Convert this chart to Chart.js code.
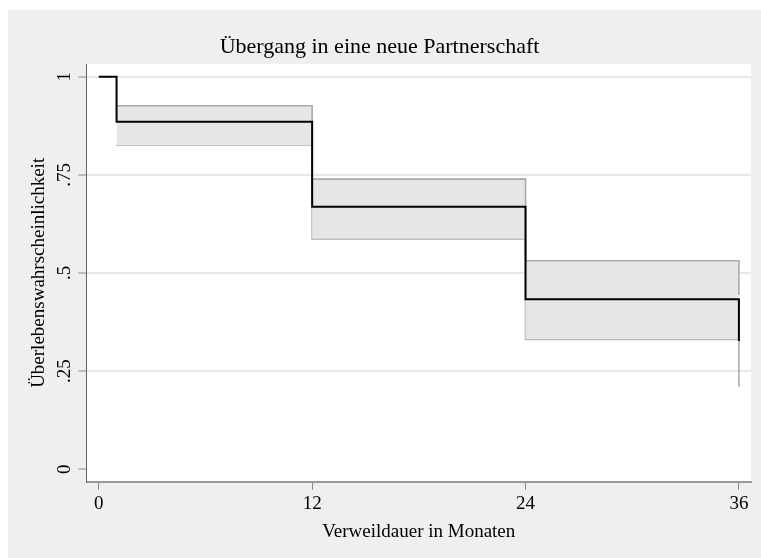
<!DOCTYPE html>
<html>
<head>
<meta charset="utf-8">
<script src="https://cdn.jsdelivr.net/npm/chart.js@4"></script>
<style>
  html, body { margin: 0; padding: 0; background: #ffffff; }
  canvas { display: block; }
</style>
</head>
<body>
<canvas id="c" width="761" height="558"></canvas>
<script>
// ---- data ----
const times = [0, 1, 12, 24, 36];
const survival = [1, 0.885, 0.669, 0.433, 0.327];
const ciTimes = [1, 12, 24, 36];
const ciUpper = [0.926, 0.739, 0.531, 0.444];
const ciLower = [0.826, 0.587, 0.331, 0.21];
const xTicks = [0, 12, 24, 36];
const xTickLabels = ['0', '12', '24', '36'];
const yTicks = [0, 0.25, 0.5, 0.75, 1];
const yTickLabels = ['0', '.25', '.5', '.75', '1'];
const titleText = 'Übergang in eine neue Partnerschaft';
const xTitle = 'Verweildauer in Monaten';
const yTitle = 'Überlebenswahrscheinlichkeit';

const FONT = "'Liberation Serif', 'Times New Roman', serif";

const bgPlugin = {
  id: 'bg',
  beforeDraw(chart) {
    const ctx = chart.ctx;
    const a = chart.chartArea;
    ctx.save();
    ctx.fillStyle = '#ffffff';
    ctx.fillRect(0, 0, chart.width, chart.height);
    ctx.fillStyle = '#efefef';
    ctx.fillRect(8, 10, chart.width - 8, chart.height - 10);
    ctx.fillStyle = '#ffffff';
    ctx.fillRect(a.left, a.top, a.right - a.left, a.bottom - a.top);
    ctx.restore();
  }
};

const toXY = (xs, ys) => xs.map((x, i) => ({ x: x, y: ys[i] }));

new Chart(document.getElementById('c'), {
  type: 'line',
  data: {
    datasets: [
      {
        label: 'Survivor',
        data: toXY(times, survival),
        borderColor: '#000000',
        borderWidth: 2,
        stepped: 'before',
        pointRadius: 0,
        fill: false
      },
      {
        label: 'Upper CI',
        data: toXY(ciTimes, ciUpper),
        borderColor: '#aaaaaa',
        borderWidth: 1.6,
        stepped: 'before',
        pointRadius: 0,
        backgroundColor: '#e6e6e6',
        fill: '+1'
      },
      {
        label: 'Lower CI',
        data: toXY(ciTimes, ciLower),
        borderColor: '#aaaaaa',
        borderWidth: 1.6,
        stepped: 'before',
        pointRadius: 0,
        fill: false
      }
    ]
  },
  options: {
    responsive: false,
    animation: false,
    events: [],
    layout: { padding: { left: 8, top: 10, right: 10, bottom: 0 } },
    plugins: {
      legend: { display: false },
      tooltip: { enabled: false },
      title: {
        display: true,
        text: titleText,
        color: '#000000',
        font: { family: FONT, size: 22, weight: 'normal', lineHeight: 1.2 },
        padding: { top: 23.6, bottom: 4 }
      }
    },
    scales: {
      x: {
        type: 'linear',
        min: -0.69,
        max: 36.68,
        afterBuildTicks: s => { s.ticks = xTicks.map(v => ({ value: v })); },
        afterFit: s => { s.height = 76.3; },
        ticks: {
          color: '#000000',
          padding: 3,
          font: { family: FONT, size: 19 },
          maxRotation: 0,
          callback: (v) => xTickLabels[xTicks.indexOf(v)]
        },
        grid: {
          drawOnChartArea: false,
          drawTicks: true,
          tickLength: 8,
          tickColor: '#888888',
          tickWidth: 1
        },
        border: { display: true, color: '#999999', width: 2 },
        title: {
          display: true,
          text: xTitle,
          color: '#000000',
          font: { family: FONT, size: 19, lineHeight: 1.2 },
          padding: { top: 0, bottom: 15 }
        }
      },
      y: {
        type: 'linear',
        min: -0.0316,
        max: 1.0323,
        afterBuildTicks: s => { s.ticks = yTicks.map(v => ({ value: v })); },
        afterFit: s => { s.width = 78.5; },
        ticks: {
          color: '#000000',
          padding: 2,
          crossAlign: 'center',
          minRotation: 90,
          maxRotation: 90,
          font: { family: FONT, size: 19 },
          callback: (v) => yTickLabels[yTicks.indexOf(v)]
        },
        grid: {
          drawOnChartArea: true,
          drawTicks: true,
          tickLength: 8,
          color: c => (c.tick && c.tick.value === 0) ? 'rgba(0,0,0,0)' : '#e8e8e8',
          lineWidth: 2,
          tickColor: '#888888',
          tickWidth: 1
        },
        border: { display: true, color: '#666666', width: 1 },
        title: {
          display: true,
          text: yTitle,
          color: '#000000',
          font: { family: FONT, size: 19, lineHeight: 1.2 },
          padding: { top: 20, bottom: 0 }
        }
      }
    }
  },
  plugins: [bgPlugin]
});
</script>
</body>
</html>
